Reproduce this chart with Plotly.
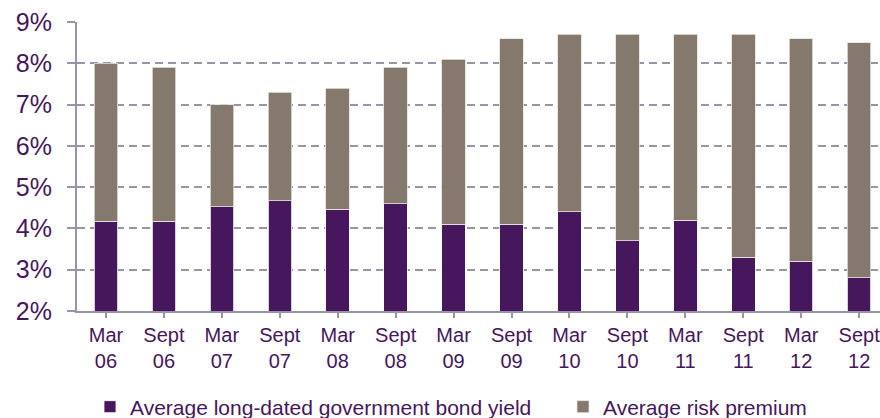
import plotly.graph_objects as go

periods = ["Mar<br>06", "Sept<br>06", "Mar<br>07", "Sept<br>07", "Mar<br>08", "Sept<br>08",
           "Mar<br>09", "Sept<br>09", "Mar<br>10", "Sept<br>10", "Mar<br>11", "Sept<br>11",
           "Mar<br>12", "Sept<br>12"]
bond_yield = [4.17, 4.17, 4.53, 4.67, 4.47, 4.6, 4.1, 4.1, 4.4, 3.7, 4.2, 3.3, 3.2, 2.8]
risk_premium = [3.83, 3.73, 2.47, 2.63, 2.93, 3.3, 4.0, 4.5, 4.3, 5.0, 4.5, 5.4, 5.4, 5.7]
y_ticks = [2, 3, 4, 5, 6, 7, 8, 9]
y_tick_text = ["2%", "3%", "4%", "5%", "6%", "7%", "8%", "9%"]

PURPLE = "#46175C"
TAUPE = "#85796D"
AXIS = "#9B93A8"
FONT = "Liberation Sans, Arial, sans-serif"

x_idx = list(range(len(periods)))

fig = go.Figure()
fig.add_trace(go.Bar(
    x=x_idx, y=bond_yield, name="Average long-dated government bond yield",
    marker=dict(color=PURPLE, line=dict(color="#FFFFFF", width=0.8)),
    legend="legend", showlegend=True,
))
fig.add_trace(go.Bar(
    x=x_idx, y=risk_premium, name="Average risk premium",
    marker=dict(color=TAUPE, line=dict(color="#E6E2DD", width=0.8)),
    legend="legend2", showlegend=True,
))

legend_style = dict(
    orientation="h", xref="container", yref="container",
    xanchor="left", yanchor="middle", y=11 / 418,
    font=dict(size=21, color=PURPLE, family=FONT),
    itemwidth=30, bgcolor="rgba(0,0,0,0)",
)

fig.update_layout(
    width=880, height=418,
    showlegend=True,
    barmode="stack", bargap=0.594,
    margin=dict(l=77, r=0, t=22, b=107),
    paper_bgcolor="white", plot_bgcolor="white",
    font=dict(family=FONT, color=PURPLE),
    legend=dict(legend_style, x=90 / 880),
    legend2=dict(legend_style, x=563 / 880),
    xaxis=dict(
        range=[-0.5, 13.36],
        tickmode="array", tickvals=x_idx, ticktext=periods,
        showgrid=False, showline=True, linecolor=AXIS, linewidth=2,
        ticks="outside", ticklen=5, tickcolor=AXIS, tickwidth=2,
        tickfont=dict(size=20, color=PURPLE, family=FONT),
        ticklabeloverflow="allow",
        zeroline=False,
    ),
    yaxis=dict(
        range=[2, 9], tickmode="array", tickvals=y_ticks, ticktext=y_tick_text,
        showgrid=True, gridcolor=AXIS, gridwidth=1.5, griddash="8px,5px",
        showline=True, linecolor=AXIS, linewidth=2,
        ticks="outside", ticklen=8, tickcolor=AXIS, tickwidth=1.5,
        ticklabelstandoff=10,
        tickfont=dict(size=25, color=PURPLE, family=FONT),
        zeroline=False,
    ),
)

# x-axis tick marks sit on the category boundaries
fig.update_xaxes(tickson="boundaries")

fig.write_html("out.html")
